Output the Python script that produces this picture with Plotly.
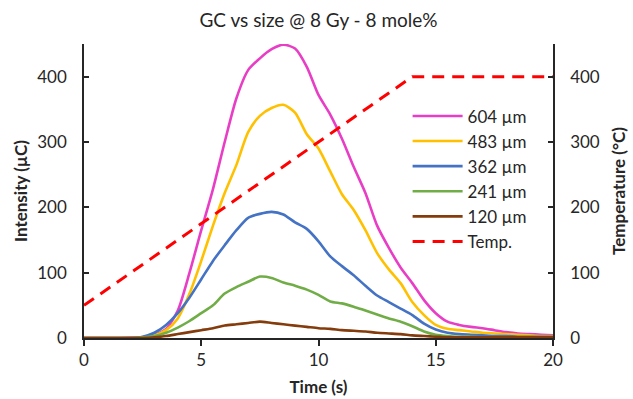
import plotly.graph_objects as go

time = [i * 0.5 for i in range(41)]

s604 = [0, 0, 0, 0, 0.5, 1, 5, 14, 42, 100, 165, 228, 300, 367, 410, 428, 442, 449, 443, 415,
        372, 342, 305, 262, 222, 172, 138, 108, 84, 58, 38, 25, 20, 17, 15, 12, 9, 7, 6, 5, 4]
s483 = [0, 0, 0, 0, 0, 1, 4, 12, 30, 68, 118, 172, 222, 265, 315, 340, 352, 357, 345, 312,
        290, 255, 220, 196, 165, 130, 105, 84, 55, 35, 20, 14, 12, 10, 8, 7, 6, 5, 4, 3, 3]
s362 = [0, 0, 0, 0, 0, 2, 8, 20, 38, 62, 90, 118, 142, 165, 184, 190, 193, 189, 177, 167,
        148, 125, 110, 96, 80, 65, 55, 45, 35, 22, 13, 8, 6, 5, 4, 3, 3, 2, 2, 2, 2]
s241 = [0, 0, 0, 0, 0, 1, 3, 8, 16, 26, 38, 50, 68, 78, 86, 94, 92, 85, 80, 74,
        66, 56, 53, 48, 42, 36, 30, 25, 18, 10, 5, 3, 2, 2, 1, 1, 1, 1, 1, 1, 1]
s120 = [0, 0, 0, 0, 0, 0, 1, 3, 6, 9, 12, 15, 19, 21, 23, 25, 23, 21, 19, 17,
        15, 14, 12, 11, 10, 8, 7, 6, 4, 3, 2, 1, 1, 1, 1, 1, 1, 1, 1, 1, 1]

temp_time = [0, 14, 20]
temp_vals = [50, 400, 400]

series = [
    ("604 µm", s604, "#E83EC6"),
    ("483 µm", s483, "#FFC000"),
    ("362 µm", s362, "#4472C4"),
    ("241 µm", s241, "#70AD47"),
    ("120 µm", s120, "#843C0C"),
]

FONT = "Lato, Open Sans, sans-serif"

fig = go.Figure()
for name, vals, color in series:
    fig.add_trace(go.Scatter(x=time, y=vals, name=name, mode="lines", cliponaxis=False,
                             line=dict(color=color, width=2.6, shape="spline", smoothing=0.7)))
fig.add_trace(go.Scatter(x=temp_time, y=temp_vals, name="Temp.", mode="lines", yaxis="y2",
                         line=dict(color="#FF0000", width=3, dash="12px,8px")))

fig.update_layout(
    width=633, height=399,
    margin=dict(l=84, r=80, t=44, b=61),
    paper_bgcolor="white", plot_bgcolor="white",
    font=dict(family=FONT, size=17, color="#262626"),
    title=dict(text="GC vs size @ 8 Gy - 8 mole%", x=0.5, xref="paper", xanchor="center",
               y=0.965, yref="container", font=dict(size=19, color="#262626")),
    showlegend=True,
    legend=dict(x=0.69, y=0.815, xanchor="left", yanchor="top", bgcolor="rgba(0,0,0,0)",
                font=dict(size=17, color="#262626"), itemwidth=50, tracegroupgap=0),
    xaxis=dict(range=[0, 20], tickvals=[0, 5, 10, 15, 20], showgrid=False, zeroline=False,
               showline=True, linecolor="#262626", linewidth=1.5, ticks="outside", ticklen=6,
               tickcolor="#262626", tickwidth=1.5, automargin=False,
               title=dict(text="<b>Time (s)</b>", standoff=12, font=dict(size=17, color="#262626"))),
    yaxis=dict(range=[0, 450], tickvals=[0, 100, 200, 300, 400], showgrid=False, zeroline=False,
               showline=True, linecolor="#262626", linewidth=1.5, ticks="inside", ticklen=5,
               tickcolor="#262626", tickwidth=1.5, ticklabelstandoff=12, automargin=False,
               title=dict(text="<b>Intensity (µC)</b>", standoff=5, font=dict(size=17, color="#262626"))),
    yaxis2=dict(range=[0, 450], tickvals=[0, 100, 200, 300, 400], overlaying="y", side="right",
                showgrid=False, zeroline=False, showline=True, linecolor="#262626", linewidth=1.5,
                ticks="inside", ticklen=5, tickcolor="#262626", tickwidth=1.5, ticklabelstandoff=12,
                automargin=False,
                title=dict(text="<b>Temperature (°C)</b>", standoff=14, font=dict(size=17, color="#262626"))),
)

fig.write_html("out.html")
